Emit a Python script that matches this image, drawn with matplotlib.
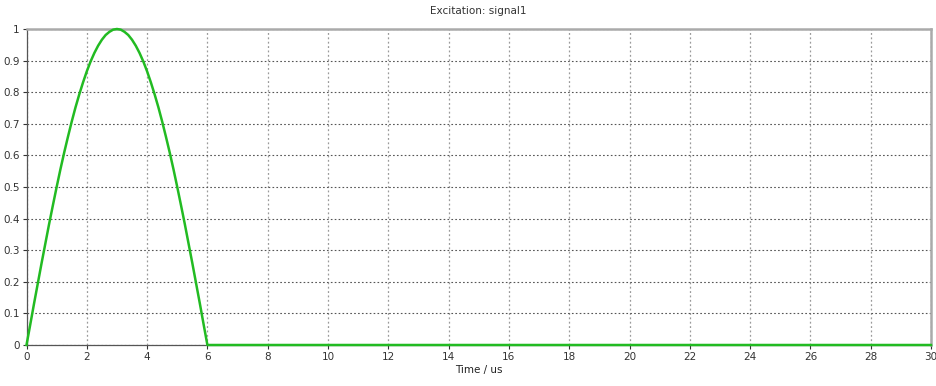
import numpy as np
import matplotlib.pyplot as plt

# excitation pulse samples (time in us, amplitude), half-sine over 0..6 us
time_us = [0, 0.125, 0.25, 0.375, 0.5, 0.625, 0.75, 0.875, 1, 1.125, 1.25, 1.375,
           1.5, 1.625, 1.75, 1.875, 2, 2.125, 2.25, 2.375, 2.5, 2.625, 2.75, 2.875,
           3, 3.125, 3.25, 3.375, 3.5, 3.625, 3.75, 3.875, 4, 4.125, 4.25, 4.375,
           4.5, 4.625, 4.75, 4.875, 5, 5.125, 5.25, 5.375, 5.5, 5.625, 5.75, 5.875,
           6, 30]
amplitude = [0, 0.065, 0.131, 0.195, 0.259, 0.321, 0.383, 0.442, 0.5, 0.556, 0.609, 0.659,
             0.707, 0.752, 0.793, 0.831, 0.866, 0.897, 0.924, 0.947, 0.966, 0.981, 0.991, 0.998,
             1.0, 0.998, 0.991, 0.981, 0.966, 0.947, 0.924, 0.897, 0.866, 0.831, 0.793, 0.752,
             0.707, 0.659, 0.609, 0.556, 0.5, 0.442, 0.383, 0.321, 0.259, 0.195, 0.131, 0.065,
             0, 0]

x_ticks = list(range(0, 31, 2))
y_ticks = [0, 0.1, 0.2, 0.3, 0.4, 0.5, 0.6, 0.7, 0.8, 0.9, 1]
y_labels = ['0', '0.1', '0.2', '0.3', '0.4', '0.5', '0.6', '0.7', '0.8', '0.9', '1']

fig = plt.figure(figsize=(9.36, 3.86), dpi=100)
ax = fig.add_axes([26.5 / 936, 1 - 345 / 386, (931 - 26.5) / 936, (345 - 29) / 386])

ax.plot(time_us, amplitude, color='#22bb22', lw=1.8, clip_on=False, zorder=3,
        solid_joinstyle='round')

ax.set_xlim(0, 30)
ax.set_ylim(0, 1)
ax.set_xticks(x_ticks)
ax.set_yticks(y_ticks)
ax.set_yticklabels(y_labels)
ax.tick_params(labelsize=7.5, length=3, width=0.8, colors='#333333', pad=2)
ax.xaxis.grid(True, linestyle=(0, (1.5, 2)), color='#9a9a9a', lw=0.9)
ax.yaxis.grid(True, linestyle=(0, (1.5, 2)), color='#555555', lw=0.8)

for side in ['left', 'bottom']:
    ax.spines[side].set_color('#555555')
    ax.spines[side].set_linewidth(0.9)
for side in ['top', 'right']:
    ax.spines[side].set_color('#aaaaaa')
    ax.spines[side].set_linewidth(1.8)

ax.set_title('Excitation: signal1', fontsize=7.5, color='#333333', pad=11)
ax.set_xlabel('Time / us', fontsize=7.5, color='#222222', labelpad=2)

fig.savefig('out.png', dpi=100)
